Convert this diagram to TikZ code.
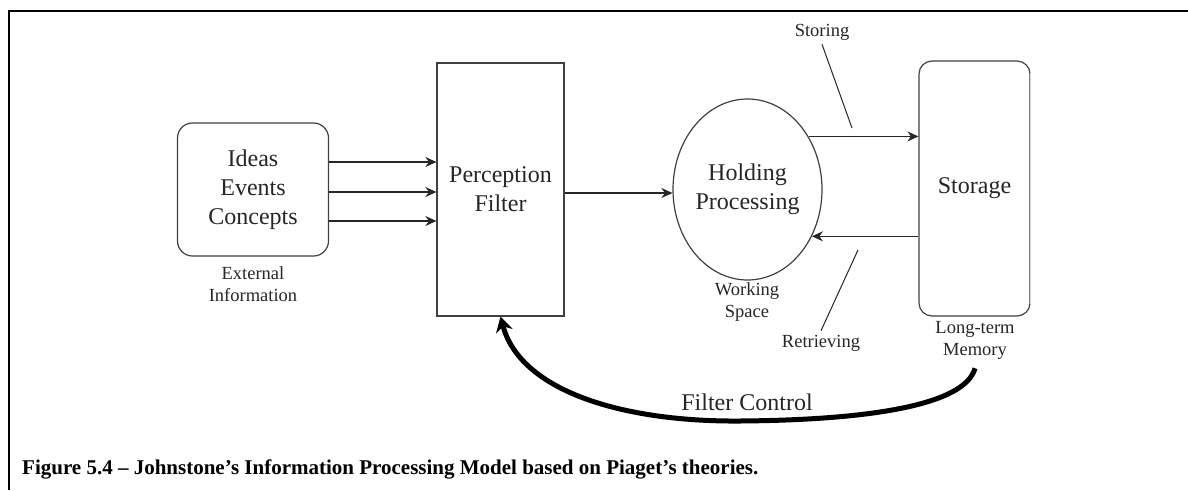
\documentclass[tikz,border=0pt]{standalone}
\usepackage{fontspec}
\setmainfont{Liberation Serif}
\usetikzlibrary{arrows.meta,shapes.geometric}
\begin{document}
\begin{tikzpicture}[x=1pt,y=-1pt,
  box/.style={draw=black!75, line width=1.2pt, inner sep=0pt, align=center, font=\fontsize{24}{29}\selectfont, text=black!85},
  lbl/.style={inner sep=0pt, align=center, font=\fontsize{18.5}{22}\selectfont, text=black!85},
  arr/.style={draw=black!85, line width=1.3pt, -{Stealth[length=11pt,width=10pt]}},
  pointer/.style={draw=black!85, line width=1pt},
  big/.style={draw=black, line width=5pt, -{Stealth[length=15pt,width=17pt]}}
]
\useasboundingbox (0,0) rectangle (1188,490);
\fill[white] (0,0) rectangle (1188,490);
\draw[line width=2.5pt] (9,490) -- (9,11) -- (1188,11);

\node[box, rounded corners=15pt, minimum width=151pt, minimum height=133pt] (ideas) at (253,189.5) {Ideas\\Events\\Concepts};
\node[box, minimum width=127pt, minimum height=253pt] (perc) at (500.5,189.5) {Perception\\Filter};
\node[box, ellipse, minimum width=149pt, minimum height=181pt] (hold) at (747.5,189.5) {Holding\\Processing};
\node[box, rounded corners=13pt, minimum width=111pt, minimum height=255pt] (stor) at (974.5,188.5) {Storage};
\draw[gray!35, line width=1.4pt] ([yshift=-13pt]stor.north east) -- ([yshift=13pt]stor.south east);

\node[lbl] (ext) at (253,284) {External\\Information};
\node[lbl] (ws) at (747,302) {Working\\Space};
\node[lbl] (ltm) at (975,340) {Long-term\\Memory};
\node[lbl] (storing) at (822,32) {Storing};
\node[lbl] (retr) at (821,343) {Retrieving};

\draw[arr] ([yshift=27.5pt]ideas.east) -- ([yshift=27.5pt]perc.west);
\draw[arr] ([yshift=-2.5pt]ideas.east) -- ([yshift=-2.5pt]perc.west);
\draw[arr] ([yshift=-31.5pt]ideas.east) -- ([yshift=-31.5pt]perc.west);
\draw[arr] ([yshift=-3.5pt]perc.east) -- ([yshift=-3.5pt]hold.west);
\draw[arr] (hold.41.7) -- (stor.west |- hold.41.7);
\draw[arr] (stor.west |- hold.-36.8) -- (hold.-36.8);

\coordinate (sp) at (852,128);
\coordinate (rp) at (858,250);
\draw[pointer] ([yshift=-4pt]storing.south) -- (sp);
\draw[pointer] (rp) -- ([yshift=4pt]retr.north);

\draw[big] ([yshift=-9pt]ltm.south) .. controls (965,405) and (870,420) .. (740,421)
  .. controls (620,422) and (520,390) .. (perc.south);
\node[inner sep=0pt, font=\fontsize{24}{29}\selectfont, text=black!85] (fc) at (747,402) {Filter Control};

\node[anchor=west, inner sep=0pt, font=\bfseries\fontsize{21}{25}\selectfont] (cap) at (22,469) {Figure 5.4 – Johnstone’s Information Processing Model based on Piaget’s theories.};
\end{tikzpicture}
\end{document}
